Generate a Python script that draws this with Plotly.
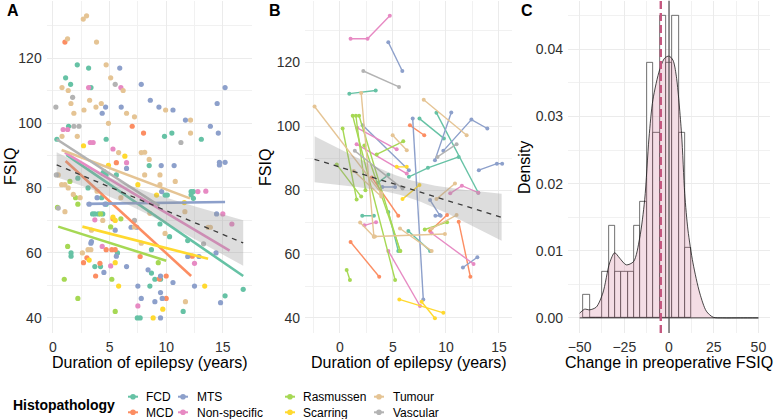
import numpy as np
import plotly.graph_objects as go

# ---------------- data ----------------
GROUPS = ["FCD", "MCD", "MTS", "Non-specific", "Rasmussen", "Scarring", "Tumour", "Vascular"]
COLORS = ["#66C2A5", "#FC8D62", "#8DA0CB", "#E78AC3", "#A6D854", "#FFD92F", "#E5C494", "#B3B3B3"]

# Panel A: duration of epilepsy (years) vs FSIQ, per histopathology
a_fcd_dur = [2.15, 3.15, 1.12, 1.56, 3.36, 1.38, 9.85, 10.5, 13.1, 4.7, 0.35, 8.5, 4.5, 4.4, 4.7, 3.1, 12.2, 12.4, 12.2, 12.4,
             9.9, 10.1, 3.7, 4.0, 4.4, 3.5, 4.7, 4.3, 10.3, 9.45, 8.7, 1.6, 1.6, 5.7, 3.7, 4.2, 8.56, 8.7, 9.0, 9.5,
             15.2, 16.8, 7.45, 7.7, 11.5, 11.9, 5.6, 2.2]
a_fcd_iq = [117.9, 116.9, 113.9, 111.9, 110.9, 99, 95.9, 96.9, 95, 95, 95, 86.9, 85, 84.5, 84, 80, 78.9, 78.9, 77.9, 76.8,
            77.8, 77.8, 72, 72, 72, 72, 75, 77, 65, 68.9, 61, 60, 59, 60, 55.8, 55.8, 49.8, 53.8, 51.9, 51.9,
            46.8, 48.8, 40, 40, 42, 63.8, 84, 83]
a_mcd_dur = [1.06, 7.0, 8.0, 5.6, 4.7, 5.2, 5.5, 4.15, 3.77, 10.0, 7.7, 10.0, 3.0, 12.3, 5.3, 9.4, 2.7]
a_mcd_iq = [124.9, 99, 96.9, 87.8, 61, 61, 61, 56.8, 52.9, 52.9, 58.9, 46, 58.5, 59, 70.5, 52, 57]
a_mts_dur = [5.9, 7.8, 15.2, 8.6, 14.5, 4.65, 6.03, 9.36, 10.6, 4.35, 11.7, 13.9, 14.6, 14.7, 15.2, 14.7, 6.5, 9.56, 10.7,
             9.6, 3.2, 4.6, 3.9, 6.9, 7.4, 5.5, 3.35, 5.6, 6.5, 4.5, 7.5, 8.4, 9.5, 9.5, 12.5, 11.9, 14.4, 9.5, 7.8,
             9.0, 9.65, 10.6, 14.8, 14.45, 3.4, 12.9]
a_mts_iq = [116.9, 111.9, 110.9, 107, 106, 104.9, 104.9, 104.9, 104, 103, 100.9, 99, 96.9, 87.9, 87.9, 87.1, 86, 86.9, 86.9,
            78.9, 75, 75, 77, 67.9, 67.9, 67, 63, 59, 55.8, 54, 49.8, 54.8, 52.9, 47.8, 49.8, 58.9, 60, 40, 46,
            45, 46, 50.9, 44.7, 72, 63.5, 58.9]
a_nonspec_dur = [3.15, 6.0, 0.9, 1.3, 3.3, 3.55, 5.3, 6.5, 12.8, 15.0, 15.8, 3.7, 4.35, 5.1, 7.5, 12.5, 13.5]
a_nonspec_iq = [110.9, 110.9, 98, 98, 94, 94, 92, 87.8, 78.9, 72, 68.9, 70.2, 62, 56, 43.7, 56.8, 79]
a_rasm_dur = [0.4, 1.3, 1.0, 5.2, 9.3, 2.2, 5.5, 1.5, 2.0, 4.2, 5.1, 6.0, 2.2]
a_rasm_iq = [74, 62, 51.9, 51.9, 57, 46, 42, 82, 77, 72, 68, 70.5, 75]
a_scar_dur = [2.7, 6.35, 7.5, 9.15, 5.3, 5.5, 3.2, 5.5, 5.8, 13.4, 8.85, 9.7, 4.9, 11.6]
a_scar_iq = [93, 89.8, 81, 77.8, 71, 70, 57.8, 57, 49.8, 49.8, 40, 42.7, 87, 75.5]
a_tum_dur = [2.68, 2.97, 1.29, 3.85, 4.7, 5.1, 0.8, 6.2, 1.35, 3.24, 1.59, 4.27, 3.8, 2.74, 9.95, 1.85, 6.5, 7.2, 12.15,
             4.9, 12.15, 2.15, 0.8, 5.8, 7.8, 8.5, 8.1, 9.45, 10.8, 9.45, 0.77, 1.06, 1.35, 0.47, 11.65, 8.56, 9.9,
             7.8, 3.4, 4.4, 3.35, 1.06, 2.6, 3.1, 11.7, 13.7, 13.9, 7.2, 6.0, 3.9, 2.4, 1.8, 8.1]
a_tum_iq = [132, 133, 125.9, 124.9, 117.9, 113.9, 110.9, 110, 110, 107, 106, 106, 104.9, 104, 104, 103, 103, 101.9, 100.9,
            99.9, 96.9, 95.9, 95.9, 90.9, 90.9, 88.8, 84, 84, 82, 81, 81, 81, 80, 84, 72.7, 72.2, 66,
            63, 67, 70, 61, 72.7, 60, 61, 45, 67.9, 67.9, 68, 77, 79, 77, 78, 91]
a_vasc_dur = [5.5, 1.74, 0.26, 1.85, 2.3, 11.3, 0.47, 13.3, 0.3, 7.2]
a_vasc_iq = [111.9, 107.9, 104.9, 99, 99, 94, 73.8, 62.8, 84, 70]

# Panel A per-group linear fits (start/end duration and fitted FSIQ), same order as GROUPS
a_fit_x0 = [1.2, 1.12, 2.97, 1.06, 0.47, 2.6, 0.77, 0.33]
a_fit_x1 = [16.8, 12.2, 15.2, 15.6, 10.0, 13.7, 12.1, 9.4]
a_fit_y0 = [90.2, 88.3, 75.1, 90.9, 68.1, 68.1, 91.7, 95.0]
a_fit_y1 = [52.9, 52.9, 75.7, 60.7, 57.6, 58.2, 76.8, 74.5]

# overall fits: intercept, slope, x-range, x-mean, se at mean, se of slope
a_all_fit = dict(intercept=87.6, slope=-1.46, xmin=0.33, xmax=16.8, xmean=5.0, se0=2.9, se_slope=0.54)
b_all_fit = dict(intercept=87.2, slope=-1.03, xmin=-2.4, xmax=15.25, xmean=6.3, se0=2.8, se_slope=0.76)

# Panel B: repeated assessments per patient (duration list, FSIQ list)
b_fcd = [([0.88, 3.37], [110.2, 111.2]), ([7.5, 9.8], [102.4, 96.2]), ([9.1, 13.05], [104.2, 79.2]),
         ([6.5, 8.3, 11.2], [84.2, 87, 90.4]), ([2.1, 3.2], [72, 72]), ([4.56, 5.5], [73.2, 61]),
         ([6.45, 8.5], [67.2, 61]), ([3.56, 4.56], [82.3, 84.8])]
b_mcd = [([6.6, 7.95], [100.3, 97.2]), ([1.0, 3.7], [63.8, 52.9]), ([11.2, 12.3], [70.1, 52.9]),
         ([8.5, 10.1], [67.2, 72.2]), ([3.0, 5.5], [84, 72])]
b_mts = [([4.56, 5.88], [126.3, 117.3]), ([2.14, 6.5], [100.3, 86.25]), ([6.86, 7.86], [102.4, 45.8]),
         ([8.96, 10.5], [89.4, 104.3]), ([9.75, 12.4, 13.9], [92.3, 102.1, 99.3]),
         ([13.1, 14.8, 15.3], [86.25, 88.3, 88.3]), ([11.6, 12.96], [55.8, 59]), ([4.0, 5.2], [81, 81]),
         ([8.5, 9.4], [76.9, 72.2]), ([9.0, 9.5], [72, 72])]
b_nonspec = [([1.0, 2.6, 4.7], [127.4, 127.4, 134.6]), ([1.63, 5.35], [99.5, 92.8]), ([1.57, 6.3], [94.4, 85.2]),
             ([10.4, 11.5, 13.05], [79, 81.4, 79.2]), ([4.56, 7.55], [61, 43.75]), ([8.65, 12.6], [66.5, 56.9]),
             ([2.3, 3.4], [69, 70])]
b_rasm = [([0.25, 1.57], [99.3, 77.1]), ([1.2, 5.2], [103.3, 51.9]), ([1.5, 2.4], [103.3, 80]),
          ([1.8, 5.66], [103.3, 61]), ([3.46, 5.97], [91.2, 95.3]), ([8.0, 10.1], [67.7, 70]),
          ([0.63, 0.94], [55, 51.9]), ([-0.3, 2.0], [88, 78]), ([2.3, 5.7], [94, 61])]
b_scar = [([5.35, 6.3], [87.3, 87.3]), ([5.9, 7.5], [77.2, 81.6]), ([5.6, 9.75], [45.8, 41.6]),
          ([7.7, 8.96], [45.1, 39.9])]
b_tum = [([-2.4, 3.9], [106.2, 79]), ([2.0, 3.2], [110.4, 65.5]), ([7.9, 11.95], [108.3, 97.2]),
         ([9.1, 10.85], [77.2, 82.1]), ([3.3, 9.9], [65.5, 66.3]), ([1.9, 3.2], [69.9, 65.4]),
         ([5.66, 8.65], [68, 61]), ([4.97, 6.3], [97.2, 92.5]), ([1.3, 3.9], [86, 78]), ([8.65, 11.0], [68, 72.2])]
b_vasc = [([2.2, 5.57], [117.3, 112.3]), ([9.2, 11.0], [90.4, 94.4]), ([1.4, 5.9], [92.3, 80.5])]

# Panel C: histogram of change in preoperative FSIQ
c_bin_start = -47.9
c_bin_width = 3.55
c_density = [0.0035, 0, 0, 0.0069, 0.0138, 0.0069, 0.0069, 0.0069, 0.0138, 0.0173,
             0.0380, 0.0276, 0.0450, 0.0380, 0.0450, 0.0276, 0.0104]
c_kde_x = [-50, -47.2, -44.4, -40.7, -37.0, -33.2, -30.4, -27.6, -23.9, -19.8, -16.4, -13.6, -11.2, -9.0,
           -5.2, -2.4, 0.0, 2.2, 4.1, 7.0, 8.8, 10.6, 13.4, 17.2, 20.9, 24.7, 30, 40, 50]
c_kde_y = [0.0007, 0.0013, 0.0012, 0.0016, 0.0037, 0.0082, 0.0097, 0.0089, 0.0079, 0.0084, 0.0119, 0.0176,
           0.0268, 0.0325, 0.0370, 0.0387, 0.0390, 0.0384, 0.0360, 0.0275, 0.0185, 0.0131, 0.0082, 0.0037,
           0.0010, 0.0001, 0, 0, 0]
c_mean_change = -4.6
c_reference = 0

LEG_COLS = [["FCD", "MCD"], ["MTS", "Non-specific"], ["Rasmussen", "Scarring"], ["Tumour", "Vascular"]]

# ---------------- figure ----------------
W, H = 777, 419
FONT = "Liberation Sans, Arial, sans-serif"


def fx(px):
    return px / W


def fy(py):
    return 1 - py / H


fig = go.Figure()

A_X = [a_fcd_dur, a_mcd_dur, a_mts_dur, a_nonspec_dur, a_rasm_dur, a_scar_dur, a_tum_dur, a_vasc_dur]
A_Y = [a_fcd_iq, a_mcd_iq, a_mts_iq, a_nonspec_iq, a_rasm_iq, a_scar_iq, a_tum_iq, a_vasc_iq]
for col, xs, ys in zip(COLORS, A_X, A_Y):
    fig.add_trace(go.Scatter(x=xs, y=ys, mode="markers", marker=dict(color=col, size=5.2),
                             xaxis="x", yaxis="y", showlegend=False, hoverinfo="skip"))
for i, col in enumerate(COLORS):
    fig.add_trace(go.Scatter(x=[a_fit_x0[i], a_fit_x1[i]], y=[a_fit_y0[i], a_fit_y1[i]], mode="lines",
                             line=dict(color=col, width=2.6), xaxis="x", yaxis="y", showlegend=False,
                             hoverinfo="skip"))


def add_overall(fit, xa, ya):
    xs = np.linspace(fit["xmin"], fit["xmax"], 80)
    c = fit["intercept"] + fit["slope"] * xs
    h = np.sqrt(fit["se0"] ** 2 + (fit["se_slope"] * (xs - fit["xmean"])) ** 2)
    fig.add_trace(go.Scatter(x=np.concatenate([xs, xs[::-1]]), y=np.concatenate([c + h, (c - h)[::-1]]),
                             mode="lines", fill="toself", fillcolor="rgba(150,150,150,0.32)",
                             line=dict(width=0), xaxis=xa, yaxis=ya, showlegend=False, hoverinfo="skip"))
    fig.add_trace(go.Scatter(x=[xs[0], xs[-1]], y=[c[0], c[-1]], mode="lines",
                             line=dict(color="#3a3a3a", width=1.3, dash="5px,5px"),
                             xaxis=xa, yaxis=ya, showlegend=False, hoverinfo="skip"))


add_overall(a_all_fit, "x", "y")

B_DATA = [b_fcd, b_mcd, b_mts, b_nonspec, b_rasm, b_scar, b_tum, b_vasc]
for col, paths in zip(COLORS, B_DATA):
    xs, ys = [], []
    for px_, py_ in paths:
        xs += list(px_) + [None]
        ys += list(py_) + [None]
    fig.add_trace(go.Scatter(x=xs, y=ys, mode="lines+markers", connectgaps=False,
                             line=dict(color=col, width=1.4), marker=dict(color=col, size=4),
                             xaxis="x2", yaxis="y2", showlegend=False, hoverinfo="skip"))
add_overall(b_all_fit, "x2", "y2")

# Panel C
centers = [c_bin_start + c_bin_width * (i + 0.5) for i in range(len(c_density))]
fig.add_trace(go.Bar(x=centers, y=c_density, width=c_bin_width, marker=dict(color="white",
                     line=dict(color="#333333", width=0.7)), xaxis="x3", yaxis="y3",
                     showlegend=False, hoverinfo="skip"))
fig.add_trace(go.Scatter(x=c_kde_x, y=c_kde_y, mode="lines", line=dict(color="#1a1a1a", width=0.8, shape="spline",
                         smoothing=0.8), fill="tozeroy", fillcolor="rgba(199,85,125,0.2)",
                         xaxis="x3", yaxis="y3", showlegend=False, hoverinfo="skip"))
fig.add_trace(go.Scatter(x=[c_kde_x[0], c_kde_x[-1]], y=[0, 0], mode="lines",
                         line=dict(color="#1a1a1a", width=0.8), xaxis="x3", yaxis="y3",
                         showlegend=False, hoverinfo="skip"))
fig.add_shape(type="line", xref="x3", yref="y3 domain", x0=c_mean_change, x1=c_mean_change, y0=0, y1=1,
              line=dict(color="#C4577F", width=2.4, dash="8px,4px"))
fig.add_shape(type="line", xref="x3", yref="y3 domain", x0=c_reference, x1=c_reference, y0=0, y1=1,
              line=dict(color="#4d4d4d", width=1.2))

# axes
YDOM = [fy(333), fy(0.7)]
GRID = "#EBEBEB"
MINOR = "#F1F1F1"
TICKFONT = dict(family=FONT, size=14, color="#303030")


def axis(domain, rng, dtick, mdtick, tick0=0, fmt=None, anchor=None, standoff=3):
    d = dict(domain=domain, range=rng, dtick=dtick, tick0=tick0, showgrid=True, gridcolor=GRID, gridwidth=1,
             zeroline=False, showline=False, ticks="", tickfont=TICKFONT, ticklabelstandoff=standoff,
             minor=dict(dtick=mdtick, tick0=tick0, showgrid=True, gridcolor=MINOR, gridwidth=0.7),
             anchor=anchor, fixedrange=True, automargin=False)
    if fmt:
        d["tickformat"] = fmt
    return d


XSTAND = 4
fig.update_layout(
    width=W, height=H, margin=dict(l=0, r=0, t=0, b=0, autoexpand=False),
    paper_bgcolor="white", plot_bgcolor="white", barmode="overlay", bargap=0,
    font=dict(family=FONT, color="black"),
    xaxis=axis([fx(46.7), fx(251.7)], [-0.55, 17.55], 5, 2.5, anchor="y", standoff=XSTAND),
    yaxis=axis(YDOM, [35.35, 137.65], 20, 10, anchor="x", standoff=4),
    xaxis2=axis([fx(305), fx(511.7)], [-3.3, 16.2], 5, 2.5, anchor="y2", standoff=XSTAND),
    yaxis2=axis(YDOM, [35.3, 139.3], 20, 10, anchor="x2", standoff=4),
    xaxis3=axis([fx(568), fx(770)], [-56.5, 56.5], 25, 12.5, anchor="y3", standoff=XSTAND),
    yaxis3=axis(YDOM, [-0.00225, 0.04725], 0.01, 0.005, fmt=".2f", anchor="x3", standoff=4),
)

ann = []


def txt(text, px_, py_, size, xanchor="center", angle=0, align="center"):
    ann.append(dict(text=text, x=fx(px_), y=fy(py_), xref="paper", yref="paper", xanchor=xanchor,
                    yanchor="middle", textangle=angle, showarrow=False, align=align, borderpad=0,
                    font=dict(size=size, family=FONT, color="black")))


for label, px_ in [("A", 12.5), ("B", 275), ("C", 526.5)]:
    txt("<b>%s</b>" % label, px_, 11, 16)
for text, px_, py_ in [("FSIQ", 11, 167), ("FSIQ", 265, 168), ("Density", 524, 168)]:
    txt(text, px_, py_, 16, angle=-90)
for text, px_ in [("Duration of epilepsy (years)", 149.5), ("Duration of epilepsy (years)", 408.5),
                  ("Change in preoperative FSIQ", 669)]:
    txt(text, px_, 362, 16)

# legend (drawn as layout annotations + key glyphs), one text block per column
LEG_SIZE = 12
line_h = LEG_SIZE * 1.3
row_mid = 404.5
row_y = [row_mid - line_h / 2, row_mid + line_h / 2]
txt("<b>Histopathology</b>", 12, row_mid, 14, xanchor="left")
key_x = [133, 183, 290, 379]
text_x = [145, 196, 302, 392]
color_of = dict(zip(GROUPS, COLORS))
for ci, names in enumerate(LEG_COLS):
    for ri, name in enumerate(names):
        col = color_of[name]
        kx, ky = fx(key_x[ci]), fy(row_y[ri])
        fig.add_shape(type="line", xref="paper", yref="paper", xsizemode="pixel", ysizemode="pixel",
                      xanchor=kx, yanchor=ky, x0=-5, x1=5, y0=0, y1=0, line=dict(color=col, width=2))
        fig.add_shape(type="circle", xref="paper", yref="paper", xsizemode="pixel", ysizemode="pixel",
                      xanchor=kx, yanchor=ky, x0=-2.8, x1=2.8, y0=-2.8, y1=2.8,
                      fillcolor=col, line=dict(width=0))
    txt("<br>".join(names), text_x[ci], row_mid, LEG_SIZE, xanchor="left", align="left")
fig.update_layout(annotations=ann)

fig.write_html("out.html", config={"displayModeBar": False},
               post_script="document.body.style.margin='0';document.body.style.overflow='hidden';")
